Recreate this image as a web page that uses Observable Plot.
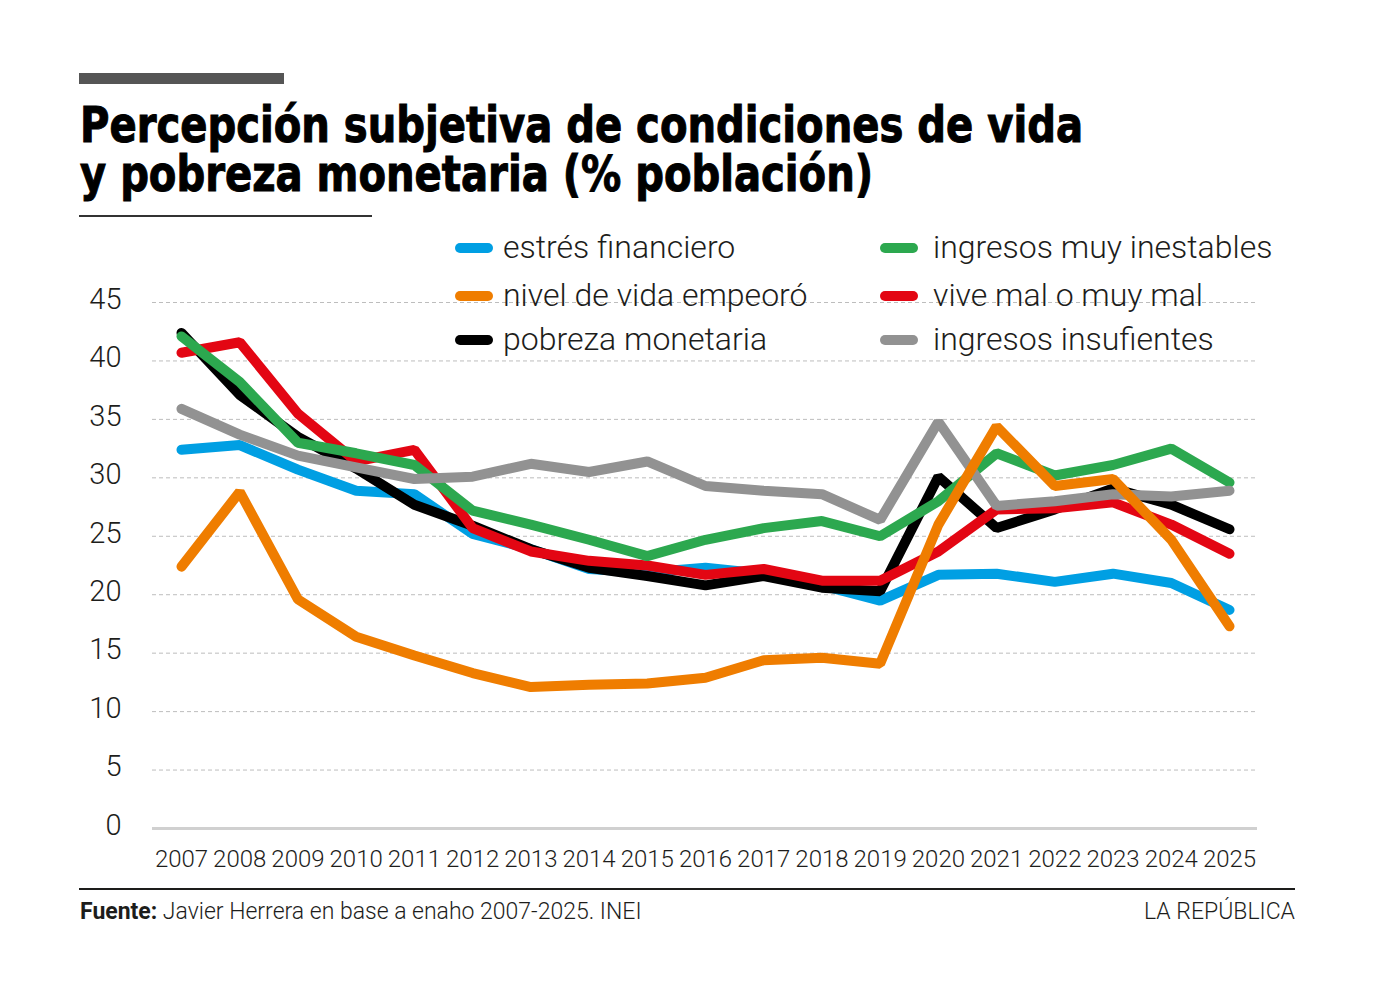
<!DOCTYPE html>
<html>
<head>
<meta charset="utf-8">
<script src="https://cdn.jsdelivr.net/npm/d3@7"></script>
<script src="https://cdn.jsdelivr.net/npm/@observablehq/plot@0.6"></script>
<style>
  html, body { margin:0; padding:0; background:#fff; }
  #wrap { position:relative; width:1387px; height:989px; overflow:hidden; font-family:Roboto, "Noto Sans", sans-serif; color:#1d1d1b; }
  #chart { position:absolute; left:0; top:0; }
  .abs { position:absolute; }
  .title { font-family:"Liberation Sans Narrow", "DejaVu Sans Condensed", sans-serif; font-weight:700; font-size:50px; line-height:49px; white-space:nowrap; transform-origin:0 0; color:#000; -webkit-text-stroke:1px #000; }
  .leg { position:absolute; font-size:32px; font-weight:300; white-space:nowrap; line-height:1; }
  .sw { position:absolute; width:38px; height:10px; border-radius:5px; }
  .foot { font-size:23px; font-weight:300; white-space:nowrap; line-height:1; }
</style>
</head>
<body>
<div id="wrap">
  <div id="chart"></div>
  <div class="abs" style="left:79px;top:73px;width:205px;height:11px;background:#555;"></div>
  <div class="abs title" id="title" style="left:80px;top:101px;"><span id="t1">Percepción subjetiva de condiciones de vida</span><br><span id="t2">y pobreza monetaria (% población)</span></div>
  <div class="abs" style="left:79px;top:215px;width:293px;height:1.5px;background:#333;"></div>
  <div id="legend"></div>
  <div class="abs" style="left:79px;top:888px;width:1216px;height:2px;background:#1d1d1b;"></div>
  <div class="abs foot" style="left:80px;top:900px;"><b style="font-weight:700">Fuente:</b> Javier Herrera en base a enaho 2007-2025. INEI</div>
  <div class="abs foot" style="right:92px;top:900px;">LA REPÚBLICA</div>
</div>
<script>
const years = [2007,2008,2009,2010,2011,2012,2013,2014,2015,2016,2017,2018,2019,2020,2021,2022,2023,2024,2025];
const estresFinanciero     = [32.4,32.8,30.7,28.9,28.6,25.2,23.9,22.2,21.9,22.3,21.8,20.8,19.5,21.7,21.8,21.1,21.8,21.0,18.7];
const nivelVidaEmpeoro     = [22.4,28.8,19.6,16.4,14.8,13.3,12.1,12.3,12.4,12.9,14.4,14.6,14.1,26.0,34.4,29.3,29.9,24.7,17.3];
const pobrezaMonetaria     = [42.4,37.1,33.5,30.8,27.7,25.9,23.9,22.3,21.6,20.8,21.6,20.6,20.3,30.1,25.7,27.3,29.1,27.7,25.6];
const ingresosInestables   = [42.1,38.2,33.0,32.1,31.1,27.2,26.0,24.7,23.3,24.7,25.7,26.3,25.0,28.0,32.1,30.2,31.1,32.5,29.6];
const viveMal              = [40.7,41.6,35.5,31.4,32.4,25.7,23.7,22.9,22.5,21.7,22.2,21.2,21.2,23.7,27.3,27.4,27.9,26.0,23.5];
const ingresosInsuficientes= [35.9,33.7,31.9,30.9,29.9,30.1,31.2,30.5,31.4,29.3,28.9,28.6,26.4,34.8,27.6,28.0,28.6,28.4,28.9];
const yTicks = [0,5,10,15,20,25,30,35,40,45];

const seriesNames = ["estrés financiero","nivel de vida empeoró","pobreza monetaria","ingresos muy inestables","vive mal o muy mal","ingresos insufientes"];
const seriesColors = ["#009fe3","#ef7d00","#000000","#2ca84f","#e30613","#929292"];
const seriesValues = [estresFinanciero,nivelVidaEmpeoro,pobrezaMonetaria,ingresosInestables,viveMal,ingresosInsuficientes];
const drawOrder = [0,2,4,3,5,1];

const lineMarks = drawOrder.map(i => Plot.lineY(
  years.map((y, j) => ({year: y, value: seriesValues[i][j]})),
  {x:"year", y:"value", stroke: seriesColors[i], strokeWidth:10, strokeLinejoin:"miter", strokeLinecap:"round"}
));

const chart = Plot.plot({
  width:1387, height:989,
  marginTop:302, marginBottom:161, marginLeft:152, marginRight:130,
  x: {domain:[2007,2025], insetLeft:29, insetRight:28},
  y: {domain:[0,45]},
  style: {fontFamily:"Roboto, sans-serif", color:"#1d1d1b", background:"transparent"},
  marks: [
    Plot.ruleY(yTicks.filter(d => d > 0), {stroke:"#bdbdbd", strokeWidth:1, strokeDasharray:"4,3"}),
    Plot.ruleY([0], {stroke:"#d0d0d0", strokeWidth:3}),
    ...lineMarks,
    Plot.axisX({ticks: years, tickFormat: d => String(d), tickSize:0, tickPadding:21, fontSize:24, fontWeight:300, label:null}),
    Plot.axisY({ticks: yTicks, tickSize:0, tickPadding:31, dy:-3, fontSize:29, fontWeight:300, label:null})
  ]
});
document.getElementById("chart").appendChild(chart);

// legend
const legPos = [[455,503,231],[455,503,279],[455,503,323],[880,933,231],[880,933,279],[880,933,323]];
const leg = document.getElementById("legend");
seriesNames.forEach((name, i) => {
  const [sx, tx, ty] = legPos[i];
  const sw = document.createElement("div");
  sw.className = "sw"; sw.style.left = sx+"px"; sw.style.top = (ty+12)+"px"; sw.style.background = seriesColors[i];
  const tt = document.createElement("div");
  tt.className = "leg"; tt.style.left = tx+"px"; tt.style.top = ty+"px"; tt.textContent = name;
  leg.appendChild(sw); leg.appendChild(tt);
});

// fit title width to the first line
const t1w = document.getElementById("t1").getBoundingClientRect().width;
document.getElementById("title").style.transform = `scaleX(${1003 / t1w})`;
</script>
</body>
</html>
